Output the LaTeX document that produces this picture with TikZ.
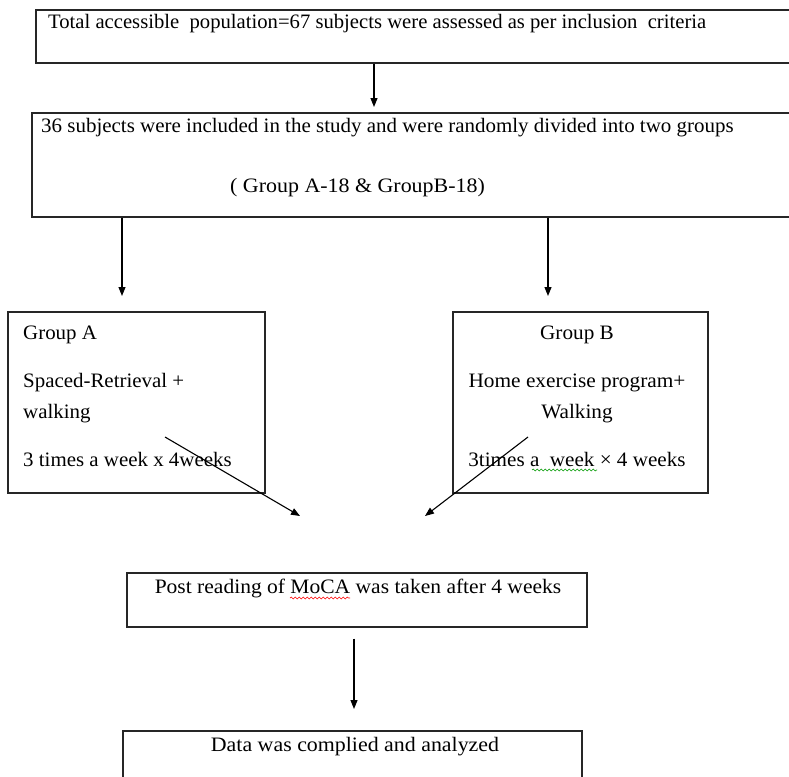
\documentclass[tikz,border=0pt]{standalone}
\usepackage{graphicx}
\usepackage{fontspec}
\setmainfont{Liberation Serif}
\usetikzlibrary{arrows.meta,decorations.pathmorphing}
\newcommand\hsc[2]{\scalebox{#1}[1]{#2}}
\begin{document}
\begin{tikzpicture}[x=1pt,y=-1pt,
  box/.style={draw=black!85,line width=1.3pt,rectangle,inner sep=0pt},
  txt/.style={inner sep=0pt,font=\fontsize{20.5}{24}\selectfont},
  arr/.style={draw=black,line width=1.1pt,-{Triangle[length=9pt,width=7pt]}},
  wavy/.style={decorate,decoration={snake,amplitude=0.9pt,segment length=4pt},line width=0.6pt}]
\useasboundingbox (0,0) rectangle (789,776);
\clip (0,0) rectangle (789,776);
\fill[white] (0,0) rectangle (789,776);
% boxes
\node[box,minimum width=764pt,minimum height=53pt] (box1) at (418,36.5) {};
\node[box,minimum width=768pt,minimum height=104pt] (box2) at (416,165) {};
\node[box,minimum width=257pt,minimum height=181pt] (boxA) at (136.5,402.5) {};
\node[box,minimum width=255pt,minimum height=181pt] (boxB) at (580.5,402.5) {};
\node[box,minimum width=460pt,minimum height=54pt] (post) at (357,600) {};
\node[box,minimum width=459pt,minimum height=60pt] (data) at (352.5,761) {};
% texts
\node[txt,anchor=base west] (t1) at (48,29) {\hsc{1.008}{Total accessible~ population=67 subjects were assessed as per inclusion~ criteria}};
\node[txt,anchor=base west] (t2) at (41,132) {\hsc{1.023}{36 subjects were included in the study and were randomly divided into two groups}};
\node[txt,anchor=base west] (t3) at (230,192) {\hsc{1.07}{( Group A-18 \& GroupB-18)}};
\node[txt,anchor=base west] (ta1) at (23,339) {\hsc{1.02}{Group A}};
\node[txt,anchor=base west] (ta2) at (23,387) {\hsc{1.02}{Spaced-Retrieval +}};
\node[txt,anchor=base west] (ta3) at (23,418) {\hsc{1.02}{walking}};
\node[txt,anchor=base west] (ta4) at (23,466) {\hsc{1.02}{3 times a week x 4weeks}};
\node[txt,anchor=base] (tb1) at (577,339) {\hsc{1.035}{Group B}};
\node[txt,anchor=base] (tb2) at (577,387) {\hsc{1.04}{Home exercise program+}};
\node[txt,anchor=base] (tb3) at (577,418) {\hsc{1.035}{Walking}};
\node[txt,anchor=base] (tb4) at (577,466) {\hsc{1.03}{3times a~ week × 4 weeks}};
\node[txt,anchor=base] (tp) at (358,593) {\hsc{1.05}{Post reading of MoCA was taken after 4 weeks}};
\node[txt,anchor=base] (td) at (355,751) {\hsc{1.068}{Data was complied and analyzed}};
% spell-check marks
\draw[wavy,red] (290,598) -- (350,598);
\draw[wavy,green!60!black] (532,470) -- (597,470);
% connector ends
\coordinate (e1) at (374,107);
\coordinate (eA) at (122,296);
\coordinate (eB) at (548,296);
\coordinate (sA) at (165,437);
\coordinate (sB) at (528,437);
\coordinate (mA) at (300,516);
\coordinate (mB) at (425,516);
\coordinate (e4) at (354,709);
% connectors
\draw[arr] (box1.south -| e1) -- (e1);
\draw[arr] (box2.south -| eA) -- (eA);
\draw[arr] (box2.south -| eB) -- (eB);
\draw[arr] (sA) -- (mA);
\draw[arr] (sB) -- (mB);
\draw[arr] (post.south -| e4) ++(0,11) -- (e4);
\end{tikzpicture}
\end{document}
